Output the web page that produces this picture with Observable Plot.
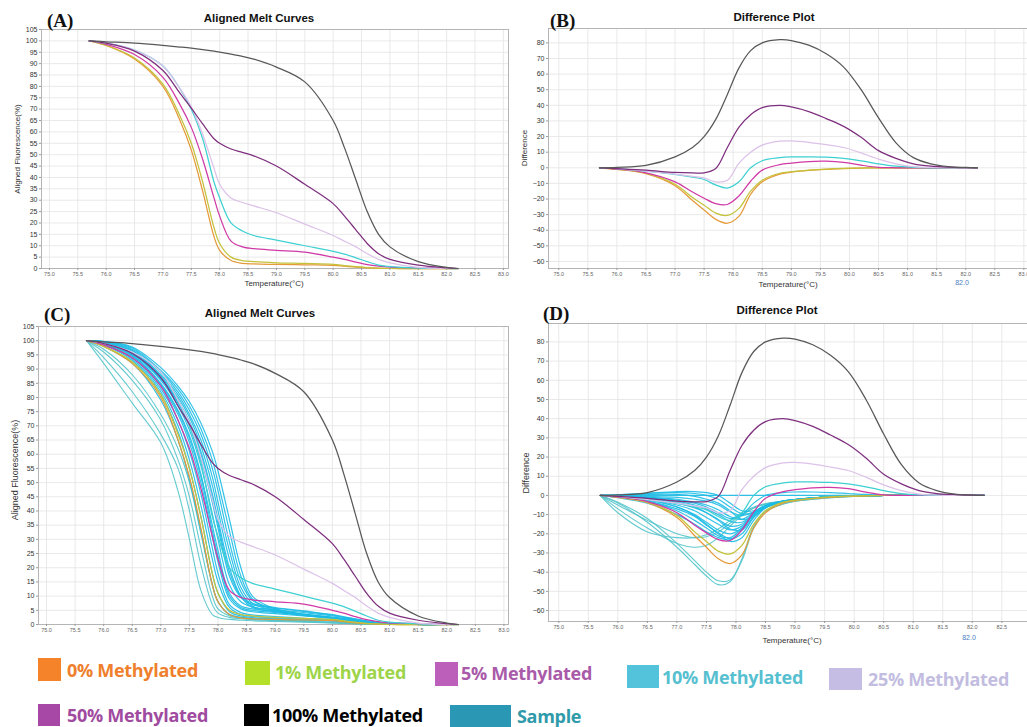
<!DOCTYPE html>
<html><head><meta charset="utf-8">
<script src="https://cdn.jsdelivr.net/npm/d3@7"></script>
<script src="https://cdn.jsdelivr.net/npm/@observablehq/plot@0.6"></script>
<style>
body{margin:0;background:#fff;}
#root{position:relative;width:1027px;height:727px;overflow:hidden;background:#fff;font-family:"Liberation Sans",Arial,sans-serif;}
.abs{position:absolute;white-space:nowrap;line-height:1;}
.ptitle{font-weight:bold;font-size:11.5px;color:#111;}
.tag{font-family:"Liberation Serif","Times New Roman",serif;font-weight:bold;font-size:19px;color:#111;}
.axlab{font-size:8px;color:#333;}
.axlab9{font-size:9px;color:#333;}
.small{font-size:7px;}
.leg{font-family:"Open Sans",sans-serif;font-weight:700;font-size:18px;letter-spacing:-0.3px;}
.sw{position:absolute;}
</style></head><body><div id="root"></div>
<script>
// ---------- DATA ----------
const xTickValues = [75.0,75.5,76.0,76.5,77.0,77.5,78.0,78.5,79.0,79.5,80.0,80.5,81.0,81.5,82.0,82.5,83.0];
const meltTicks = [0,5,10,15,20,25,30,35,40,45,50,55,60,65,70,75,80,85,90,95,100,105];
const diffTicks = [-60,-50,-40,-30,-20,-10,0,10,20,30,40,50,60,70,80];

const stdNames = ["0% Methylated","1% Methylated","5% Methylated","10% Methylated","25% Methylated","50% Methylated","100% Methylated"];
const stdLineColors = ["#e59a3a","#c4c23a","#cf3aa6","#3fd0d2","#dcc2e8","#7e2f7e","#585858"];

// melt-curve temperature grid (°C)
const meltTemps = [75.7,76.0,76.5,77.0,77.3,77.5,77.7,77.9,78.0,78.2,78.4,78.6,79.0,79.5,80.0,80.2,80.4,80.6,80.8,81.0,81.5,82.0,82.2];
const melt0   = [100,98,92,80,65,52,34,14,8,3.5,2.3,2,1.8,1.6,1.4,1,0.6,0.3,0.1,0,0,0,0];
const melt1   = [100,98,92.5,81,67,55,38,18,11,5,3.5,3,2.5,2.2,1.8,1.3,0.8,0.4,0.2,0,0,0,0];
const melt5   = [100,98.5,94,84,72,62,48,31,23,12,9.5,8.7,8,7.2,5,4,2.8,1.7,1,0.6,0.3,0.1,0];
const melt10  = [100,99,96,89,79,70,57,38,31,20,16.5,14.5,12.5,10,7.5,6.3,4.7,3,1.5,0.8,0.2,0,0];
const melt25  = [100,99,96,89,79,71,59,44,37,31,29,27.5,24.5,19.5,14.5,12,9.5,6.5,4,2.5,0.5,0,0];
const melt50  = [100,99,95.5,87,77,70.5,63.5,57,55,52.5,51,49.5,45,37,28.5,23,17,11,6.5,4,1.5,0.3,0];
const melt100 = [100,99.6,99,98,97.3,96.8,96.2,95.5,95.1,94.2,93.2,92,88.5,82,65,53,39,25,15,9.5,3,0.5,0];

// difference-plot temperature grid (°C)
const diffTemps = [75.7,76.0,76.5,77.0,77.3,77.5,77.7,77.9,78.1,78.3,78.5,78.8,79.0,79.3,79.6,79.9,80.2,80.5,80.8,81.1,81.4,81.7,82.0,82.2];
const diff0   = [0,-1,-3.8,-11.5,-21,-27,-33,-35.5,-31,-17,-9,-4,-2.8,-1.7,-1,-0.5,-0.2,0,0,0,0,0,0,0];
const diff1   = [0,-1,-3.5,-10.5,-19,-24,-29,-30.5,-26,-15,-8,-3.5,-2.5,-1.5,-0.8,-0.4,-0.2,0,0,0,0,0,0,0];
const diff5   = [0,-0.8,-3.2,-9,-15.5,-19.5,-23,-23.5,-18,-8.6,-1.5,2,3,4,4.2,3.5,1.7,0.3,0,0,0,0,0,0];
const diff10  = [0,-0.5,-2.2,-4.2,-6,-7.5,-11,-13,-9,0,4.5,6.5,7,7,6.8,6,4.5,2.5,1,0.3,0,0,0,0];
const diff25  = [0,-0.5,-2.2,-4,-5.5,-6.5,-9,-8,3,10,14.5,17,17.2,16.3,14.8,13,9.5,5.5,2.5,0.7,0.2,0,0,0];
const diff50  = [0,-0.5,-1.5,-3,-3.3,-3.2,-0.5,13,26,34,38.5,40,39,36,31.5,26.5,19.5,11,6,2.5,1,0.5,0.1,0];
const diff100 = [0,0.3,1.5,7,13,20,31,47,64,75,80,82,81.5,78.5,73,64.5,50,32,16,6.5,2.5,0.7,0.2,0];

// sample melt curves (panel C), on meltTemps
const sampleMeltEarly = [
  [100,92,78,64,47,30,12,3.5,2.5,1.8,1.5,1.3,1.1,0.8,0.5,0.4,0.3,0.2,0.1,0,0,0,0],
  [100,94,82,67,55,40,21,7,4,2.5,2,1.7,1.4,1,0.6,0.5,0.3,0.2,0.1,0,0,0,0],
  [100,96,86,72,58,45,27,10,5.5,3,2.2,1.8,1.5,1.1,0.7,0.5,0.3,0.2,0.1,0,0,0,0],
  [100,97,88,74,62,50,32,14,8,3.5,2.5,2,1.6,1.2,0.8,0.6,0.4,0.2,0.1,0,0,0,0]
];
const sampleMeltMain = [
  [100,98,92,79,65,51,33,14,8,3.5,2.5,2,1.8,1.5,1.2,1,0.7,0.4,0.2,0.1,0,0,0],
  [100,98.5,93,81,68,55,38,18,11,4.5,3,2.4,2,1.7,1.4,1.1,0.8,0.5,0.2,0.1,0,0,0],
  [100,98.7,93.5,82,70,58,42,23,15,6,3.5,2.8,2.3,1.9,1.5,1.2,0.9,0.5,0.3,0.1,0,0,0],
  [100,98.8,94,83,72,61,46,27,18,7,4.2,3.4,2.8,2.2,1.7,1.3,1,0.6,0.3,0.1,0,0,0],
  [100,99,94.5,84,74,64,50,31,22,9,5.5,4.5,3.8,3,2.2,1.7,1.2,0.8,0.4,0.2,0,0,0],
  [100,99,95,85,75.5,66.5,53,35,26,11,6.5,5.5,4.6,3.6,2.5,2,1.4,0.9,0.5,0.2,0,0,0],
  [100,99.2,95.3,86,77,68.5,56,39,30,14,8,6.2,5.2,4.2,3,2.4,1.7,1.1,0.6,0.3,0,0,0],
  [100,99.2,95.6,86.5,78,70,58.5,43,34,17,9.5,7,5.8,4.6,3.3,2.6,1.9,1.2,0.7,0.3,0,0,0],
  [100,99.3,96,87,79,71.5,61,46,37,20,10,6,4.5,3.3,2.3,1.9,1.4,0.9,0.5,0.2,0,0,0],
  [100,99.4,96.3,87.5,80,73,63,49,40,23,11.5,6.5,4.7,3.4,2.4,1.9,1.4,0.9,0.5,0.2,0,0,0],
  [100,99.5,96.6,88,81,74,65,52,43,26,13,7.5,5,3.5,2.4,1.9,1.4,0.9,0.5,0.2,0,0,0],
  [100,99.6,97,89,82,75.5,67,55,47,29,15,8.5,5.5,3.7,2.5,2,1.5,1,0.5,0.2,0,0,0],
  [100,99.7,97.4,89.5,83,77,69,58,50,33,17,9,5,3.2,2.2,1.8,1.3,0.8,0.4,0.2,0,0,0],
  [100,99.8,97.8,90.5,84,78.5,71,61,54,37,20,10,5.5,3.5,2.4,1.9,1.4,0.9,0.5,0.2,0,0,0],
  [100,98.9,94.8,84.5,75,65.5,52,33,24,10,6,5,4.2,3.3,2.4,1.9,1.3,0.8,0.4,0.2,0,0,0],
  [100,99.3,95.8,86.8,78.5,71,60,44.5,35.5,18.5,10,7.5,6,4.8,3.5,2.7,2,1.3,0.7,0.3,0,0,0]
];

// sample difference curves (panel D), on diffTemps
const sampleDiffEarly = [
  [0,-4,-14,-27,-36,-42,-46.5,-45,-33,-16,-8,-4.5,-3,-2,-1.2,-0.6,-0.3,0,0,0,0,0,0,0],
  [0,-3.5,-12,-25,-34,-40,-44.5,-44,-34,-17,-8.5,-4.5,-3,-2,-1.2,-0.6,-0.3,0,0,0,0,0,0,0],
  [0,-7,-17,-25,-27,-26,-22,-16,-10.5,-6.5,-4.5,-3,-2.3,-1.5,-0.8,-0.4,-0.2,0,0,0,0,0,0,0],
  [0,-5,-13,-20,-22,-21.5,-19,-14.5,-10,-6.5,-4.5,-3,-2.3,-1.5,-0.8,-0.4,-0.2,0,0,0,0,0,0,0],
  [0,-9,-19,-22,-22,-20.5,-17.5,-13,-9,-6,-4.2,-2.8,-2.1,-1.4,-0.7,-0.3,-0.1,0,0,0,0,0,0,0]
];
const sampleDiffMain = [
  [0,-1,-3,-8,-13,-17,-21,-22,-17,-9,-5,-3,-2.2,-1.4,-0.8,-0.4,-0.2,0,0,0,0,0,0,0],
  [0,-0.8,-2.5,-6,-10,-14,-18,-20,-17,-10,-5.5,-3,-2.2,-1.4,-0.8,-0.4,-0.2,0,0,0,0,0,0,0],
  [0,-0.6,-2,-5,-8,-11.5,-15,-18,-16,-10,-5.5,-3,-2.2,-1.4,-0.8,-0.4,-0.2,0,0,0,0,0,0,0],
  [0,-0.5,-1.5,-4,-6.5,-9,-12.5,-16,-15,-10,-6,-3.2,-2.3,-1.4,-0.8,-0.4,-0.2,0,0,0,0,0,0,0],
  [0,-0.4,-1.2,-3,-5,-7,-10,-13.5,-14,-9.5,-6,-3.2,-2.3,-1.4,-0.8,-0.4,-0.2,0,0,0,0,0,0,0],
  [0,-0.3,-1,-2,-3.5,-5,-7.5,-11,-12.5,-9,-5.5,-3,-2.2,-1.3,-0.7,-0.3,-0.1,0,0,0,0,0,0,0],
  [0,-0.2,-0.5,-1,-2,-3,-5,-8.5,-10.5,-8.5,-5.5,-3,-2.2,-1.3,-0.7,-0.3,-0.1,0,0,0,0,0,0,0],
  [0,0.3,1.2,2,2,1.5,0,-4,-8,-8,-5.5,-3,-2.2,-1.3,-0.7,-0.3,-0.1,0,0,0,0,0,0,0],
  [0,0.2,1,1.5,1,0,-2,-6,-9.5,-9,-6,-3.2,-2.3,-1.4,-0.8,-0.4,-0.2,0,0,0,0,0,0,0],
  [0,-0.5,-2,-6,-10.5,-15,-20,-24,-22,-13,-6.5,-3.5,-2.5,-1.5,-0.8,-0.4,-0.2,0,0,0,0,0,0,0],
  [0,-1.2,-4,-10,-15,-19,-22,-23,-18,-10,-5.5,-3,-2.2,-1.4,-0.8,-0.4,-0.2,0,0,0,0,0,0,0],
  [0,-0.8,-2.8,-7,-11,-15.5,-19.5,-22.5,-20,-11.5,-6,-3.2,-2.3,-1.4,-0.8,-0.4,-0.2,0,0,0,0,0,0,0],
  [0,0.1,0.5,0.5,-0.5,-2,-4,-8,-12.5,-11,-6.5,-3.5,-2.5,-1.5,-0.8,-0.4,-0.2,0,0,0,0,0,0,0],
  [0,-0.3,-1.2,-3.5,-6,-9,-13,-17.5,-18,-11,-6,-3.2,-2.3,-1.4,-0.8,-0.4,-0.2,0,0,0,0,0,0,0],
  [0,0,0,0,0,0,0,0,0,0,0,0,0,0,0,0,0,0,0,0,0,0,0,0],
  [0,-0.2,-1,-2.5,-4,-6,-9,-12,-10,-4,0,1.5,1.8,1.8,1.5,1,0.5,0.2,0,0,0,0,0,0]
];

const legendLabels = ["0% Methylated","1% Methylated","5% Methylated","10% Methylated","25% Methylated","50% Methylated","100% Methylated","Sample"];
const legendSwatchColors = ["#f5832a","#b5e02a","#bb5fbb","#52c3da","#c5bde3","#a748a6","#000000","#2a98b4"];
const legendTextColors = ["#ef7f2c","#9ed44a","#a95aa9","#56bfd0","#c2bde0","#a04aa0","#000000","#2f9aaa"];
const sampleColor = "#1cbbe6";
const sampleEarlyColor = "#52c4ca";

// ---------- DRAW ----------
const root = document.getElementById("root");
const pts = (temps, vals) => temps.map((t, i) => ({t, v: vals[i]}));
const meltStd = [melt0, melt1, melt5, melt10, melt25, melt50, melt100];
const diffStd = [diff0, diff1, diff5, diff10, diff25, diff50, diff100];

function panel(cfg) {
  const xt = cfg.xTicks || xTickValues;
  const marks = [
    Plot.gridX(xTickValues, {stroke: "#e3e3e3", strokeOpacity: 1, strokeWidth: 0.8}),
    Plot.gridY(cfg.yTicks, {stroke: "#e3e3e3", strokeOpacity: 1, strokeWidth: 0.8}),
    Plot.frame({stroke: "#b5b5b5"})
  ];
  for (const s of cfg.series) {
    marks.push(Plot.line(s.data, {x: "t", y: "v", stroke: s.color, strokeWidth: s.w || 1.25, strokeOpacity: s.o || 1, curve: "catmull-rom"}));
  }
  marks.push(Plot.axisX(xt, {tickFormat: d3.format(".1f"), fontSize: 5.5, tickSize: 2, tickPadding: 2, label: null, stroke: "#999", fill: "#666"}));
  marks.push(Plot.axisY(cfg.yTicks, {fontSize: 7, tickSize: 2, tickPadding: 2, label: null, stroke: "#999", fill: "#333"}));
  const svg = Plot.plot({
    width: cfg.w, height: cfg.h,
    marginLeft: cfg.ml, marginRight: cfg.mr, marginTop: cfg.mt, marginBottom: cfg.mb,
    x: {domain: cfg.xd}, y: {domain: cfg.yd},
    style: {background: "transparent", fontFamily: "Liberation Sans, Arial, sans-serif", overflow: "visible"},
    marks
  });
  svg.style.position = "absolute";
  svg.style.left = cfg.left + "px";
  svg.style.top = cfg.top + "px";
  root.appendChild(svg);
}

function txt(s, x, y, cls, transform, color) {
  const d = document.createElement("div");
  d.className = "abs " + cls;
  d.textContent = s;
  d.style.left = x + "px";
  d.style.top = y + "px";
  d.style.transform = transform || "translate(-50%,-50%)";
  if (color) d.style.color = color;
  root.appendChild(d);
}

const meltSeriesStd = meltStd.map((v, i) => ({data: pts(meltTemps, v), color: stdLineColors[i]}));
const diffSeriesStd = diffStd.map((v, i) => ({data: pts(diffTemps, v), color: stdLineColors[i]}));

// Panel A
panel({left: 0, top: 0, w: 515, h: 290, ml: 41, mr: 7, mt: 29, mb: 22,
  xd: [74.86, 83.09], yd: [0, 105], yTicks: meltTicks, series: meltSeriesStd});
// Panel B
panel({left: 510, top: 0, w: 530, h: 290, ml: 38, mr: 5, mt: 28, mb: 22,
  xd: [74.823, 83.2], yd: [-64.5, 89.2], yTicks: diffTicks, series: diffSeriesStd});
// Panel C
const cSeries = [
  ...sampleMeltEarly.map(v => ({data: pts(meltTemps, v), color: sampleEarlyColor, w: 1.1, o: 0.9})),
  ...sampleMeltMain.map(v => ({data: pts(meltTemps, v), color: sampleColor, w: 1.2, o: 0.9})),
  ...meltSeriesStd
];
panel({left: 0, top: 295, w: 515, h: 345, ml: 38, mr: 7, mt: 31, mb: 16,
  xd: [74.86, 83.08], yd: [0, 105], yTicks: meltTicks, series: cSeries});
// Panel D
const dSeries = [
  ...sampleDiffEarly.map(v => ({data: pts(diffTemps, v), color: sampleEarlyColor, w: 1.1, o: 0.9})),
  ...sampleDiffMain.map(v => ({data: pts(diffTemps, v), color: sampleColor, w: 1.2, o: 0.9})),
  ...diffSeriesStd
];
panel({left: 510, top: 295, w: 530, h: 345, ml: 38, mr: 5, mt: 28, mb: 19,
  xd: [74.826, 83.07], yd: [-65.7, 89.6], yTicks: diffTicks, series: dSeries,
  xTicks: xTickValues.slice(0, -1)});

// Titles, tags, axis labels
txt("(A)", 47, 20, "tag", "translate(0,-50%)");
txt("Aligned Melt Curves", 259, 19, "ptitle");
txt("Aligned Fluorescence(%)", 18, 149, "axlab", "translate(-50%,-50%) rotate(-90deg)");
txt("Temperature(°C)", 274, 284, "axlab");

txt("(B)", 550, 20, "tag", "translate(0,-50%)");
txt("Difference Plot", 774, 18, "ptitle");
txt("Difference", 525, 148, "axlab", "translate(-50%,-50%) rotate(-90deg)");
txt("Temperature(°C)", 788, 285, "axlab");
txt("82.0", 962, 282, "axlab small", "translate(-50%,-50%)", "#4a7cc0");

txt("(C)", 44, 314, "tag", "translate(0,-50%)");
txt("Aligned Melt Curves", 260, 314, "ptitle");
txt("Aligned Fluorescence(%)", 15, 470, "axlab9", "translate(-50%,-50%) rotate(-90deg)");

txt("(D)", 543, 313, "tag", "translate(0,-50%)");
txt("Difference Plot", 777, 311, "ptitle");
txt("Difference", 526, 473, "axlab9", "translate(-50%,-50%) rotate(-90deg)");
txt("Temperature(°C)", 792, 641, "axlab");
txt("82.0", 969, 637, "axlab small", "translate(-50%,-50%)", "#4a7cc0");

// Legend (layout positions)
const legendLayout = [
  {sx: 38, sy: 658, sw: 23, sh: 23, tx: 67, ty: 670},
  {sx: 245, sy: 661, sw: 25, sh: 24, tx: 275, ty: 672},
  {sx: 435, sy: 662, sw: 23, sh: 24, tx: 461, ty: 673},
  {sx: 627, sy: 665, sw: 32, sh: 23, tx: 662, ty: 677},
  {sx: 829, sy: 668, sw: 33, sh: 22, tx: 868, ty: 679},
  {sx: 38, sy: 704, sw: 22, sh: 22, tx: 67, ty: 715},
  {sx: 244, sy: 704, sw: 25, sh: 22, tx: 272, ty: 715},
  {sx: 450, sy: 705, sw: 61, sh: 22, tx: 517, ty: 716}
];
legendLabels.forEach((lab, i) => {
  const L = legendLayout[i];
  const s = document.createElement("div");
  s.className = "sw";
  s.style.left = L.sx + "px"; s.style.top = L.sy + "px";
  s.style.width = L.sw + "px"; s.style.height = L.sh + "px";
  s.style.background = legendSwatchColors[i];
  root.appendChild(s);
  txt(lab, L.tx, L.ty, "leg", "translate(0,-50%)", legendTextColors[i]);
});
</script></body></html>
